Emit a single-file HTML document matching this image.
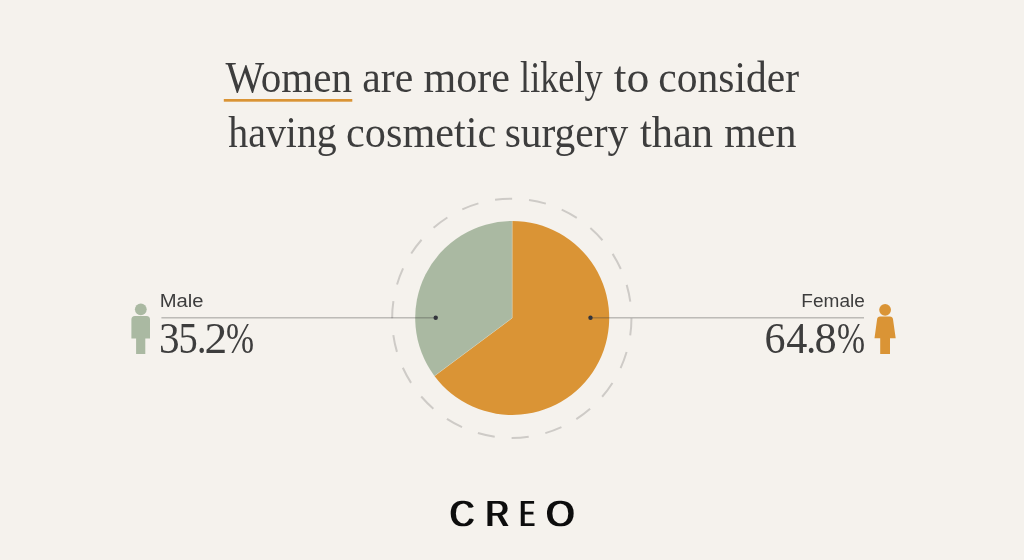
<!DOCTYPE html>
<html lang="en">
<head>
<meta charset="utf-8">
<title>Women are more likely to consider having cosmetic surgery than men</title>
<style>
  html, body { margin: 0; padding: 0; background: #f5f2ed; }
  body { width: 1024px; height: 560px; overflow: hidden; }
  svg { display: block; }
  .title { font-family: "Liberation Serif", serif; font-size: 43.5px; fill: #3d3d3d; }
  .label { font-family: "Liberation Sans", sans-serif; font-size: 18.5px; fill: #3d3d3d; }
  .value { font-family: "Liberation Serif", serif; font-size: 43.7px; fill: #3d3d3d; }
  .logo  { font-family: "Liberation Sans", sans-serif; font-size: 36.3px; fill: #111111; text-rendering: geometricPrecision; }
</style>
</head>
<body>
<svg width="1024" height="560" viewBox="0 0 1024 560">
  <rect x="0" y="0" width="1024" height="560" fill="#f5f2ed"/>

  <!-- Title -->
  <g>
    <text class="title" transform="translate(225.40 92.2) scale(0.9438 1)">Women</text>
    <text class="title" transform="translate(362.26 92.2) scale(0.9600 1)">are</text>
    <text class="title" transform="translate(423.43 92.2) scale(0.9683 1)">more</text>
    <text class="title" transform="translate(520.08 92.2) scale(0.8326 1)">likely</text>
    <text class="title" transform="translate(613.67 92.2) scale(1.0520 1)">to</text>
    <text class="title" transform="translate(658.23 92.2) scale(0.9556 1)">consider</text>
    <text class="title" transform="translate(228.34 146.6) scale(0.9162 1)">having</text>
    <text class="title" transform="translate(346.10 146.6) scale(0.9710 1)">cosmetic</text>
    <text class="title" transform="translate(504.63 146.6) scale(0.9542 1)">surgery</text>
    <text class="title" transform="translate(640.01 146.6) scale(0.9763 1)">than</text>
    <text class="title" transform="translate(724.13 146.6) scale(0.9652 1)">men</text>
  </g>
  <rect x="223.8" y="99" width="128.5" height="2.7" fill="#da9435"/>

  <!-- Dashed ring -->
  <circle cx="511.8" cy="318.3" r="119.65" fill="none" stroke="#cecbc7" stroke-width="2" stroke-dasharray="17.2 16.972"/>

  <!-- Pie -->
  <path d="M512.2 318.0 L512.2 221.0 A97.0 97.0 0 1 1 434.45 376.00 Z" fill="#da9435"/>
  <path d="M512.2 318.0 L512.2 221.0 A97.0 97.0 0 0 0 434.45 376.00 Z" fill="#aab9a2"/>
  <path d="M512.2 221.0 L512.2 318.0 L434.45 376.00" fill="none" stroke="#e6dfcc" stroke-width="0.6" stroke-opacity="0.55"/>

  <!-- Leader lines -->
  <rect x="161.4" y="317.34" width="274.3" height="1" fill="#3a3a3a" fill-opacity="0.45"/>
  <rect x="590.5" y="317.34" width="273.5" height="1" fill="#3a3a3a" fill-opacity="0.45"/>
  <circle cx="435.7" cy="317.8" r="2.2" fill="#33353d"/>
  <circle cx="590.5" cy="317.8" r="2.2" fill="#33353d"/>

  <!-- Male -->
  <g fill="#aab9a2">
    <circle cx="140.8" cy="309.3" r="5.9"/>
    <path d="M131.4 319.5 a3.5 3.5 0 0 1 3.5 -3.5 h11.6 a3.5 3.5 0 0 1 3.5 3.5 v18.9 h-4.7 v15.6 h-9.2 v-15.6 h-4.7 z"/>
  </g>
    <text class="label" transform="translate(159.76 307.3) scale(1.0940 1)">Male</text>
    <text class="value" transform="translate(159.02 353.1) scale(0.9425 1)">3</text><text class="value" transform="translate(178.60 353.1) scale(0.8789 1)">5</text><text class="value" transform="translate(197.02 353.1) scale(0.8600 1)">.</text><text class="value" transform="translate(204.52 353.1) scale(1.0400 1)">2</text><text class="value" transform="translate(226.04 353.1) scale(0.7701 1)">%</text>

  <!-- Female -->
  <g fill="#da9435">
    <circle cx="885.1" cy="309.8" r="5.9"/>
    <path d="M880.2 316.4 H889.8 Q892.6 316.4 893 319.2 L895.7 338.3 H890 V354 H880.2 V338.3 H874.5 L877.1 319.2 Q877.4 316.4 880.2 316.4 Z"/>
  </g>
    <text class="label" transform="translate(801.36 307.4) scale(1.0295 1)">Female</text>
    <text class="value" transform="translate(764.48 353.1) scale(0.9622 1)">6</text><text class="value" transform="translate(786.18 353.1) scale(0.9659 1)">4</text><text class="value" transform="translate(806.20 353.1) scale(0.9000 1)">.</text><text class="value" transform="translate(814.62 353.1) scale(1.0162 1)">8</text><text class="value" transform="translate(837.04 353.1) scale(0.7701 1)">%</text>

  <!-- Logo -->
  <defs>
    <filter id="hw" x="-5%" y="-20%" width="110%" height="140%"><feMorphology operator="dilate" radius="1 0"/></filter>
  </defs>
  <g filter="url(#hw)">
    <text class="logo" transform="translate(449.88 526) scale(0.9261 1)">C</text><text class="logo" transform="translate(485.83 526) scale(0.8884 1)">R</text><text class="logo" transform="translate(520.11 526) scale(0.5975 1)">E</text><text class="logo" transform="translate(546.15 526) scale(0.9980 1)">O</text>
  </g>
</svg>
</body>
</html>
